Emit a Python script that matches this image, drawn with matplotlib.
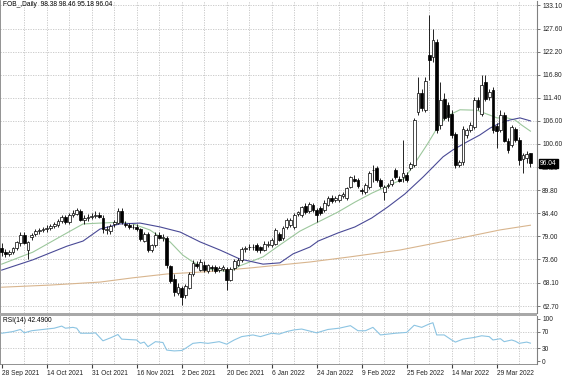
import numpy as np
import matplotlib
matplotlib.use('Agg')
import matplotlib.pyplot as plt
from matplotlib.patches import Rectangle
import matplotlib.transforms as mtransforms

plt.rcParams['font.family'] = ['Liberation Sans', 'DejaVu Sans']

# daily candles
open_ = [76.3, 75.3, 74.8, 75.4, 76.2, 77.4, 79.4, 75.8, 78.8, 79.5, 80.2, 80.5, 80.6, 81.0, 81.4, 81.6, 82.5, 83.6, 82.3, 84.0,
         84.3, 85.0, 82.8, 83.3, 83.6, 83.8, 84.0, 83.3, 80.4, 80.2, 82.0, 82.2, 85.0, 82.0, 81.6, 81.3, 81.2, 80.6, 78.0, 79.5,
         75.9, 77.0, 79.3, 78.7, 78.6, 72.0, 69.0, 65.8, 67.0, 65.2, 67.0, 70.2, 72.6, 71.2, 72.4, 70.9, 71.8, 71.9, 71.2, 71.4,
         71.3, 68.9, 71.5, 72.4, 73.4, 76.0, 76.4, 76.6, 76.9, 76.4, 75.9, 77.0, 77.0, 77.2, 79.5, 78.5, 81.1, 81.6, 81.2, 84.3,
         84.0, 86.2, 84.9, 86.3, 85.1, 85.6, 85.1, 86.4, 88.0, 87.6, 87.4, 88.5, 87.9, 90.6, 92.4, 92.2, 89.8, 89.4, 90.5, 94.4,
         95.0, 92.2, 89.4, 90.8, 91.2, 94.5, 92.4, 92.9, 93.4, 95.0, 95.7, 108.1, 112.5, 108.5, 121.4, 121.0, 124.5, 105.0, 111.1, 109.6,
         107.5, 103.0, 95.7, 96.3, 102.8, 103.9, 104.5, 110.9, 107.7, 115.0, 111.5, 113.2, 104.7, 103.9, 107.4, 101.4, 100.4, 104.0, 101.5, 97.2,
         97.4, 98.38]
high_ = [77.4, 76.0, 75.9, 76.6, 78.0, 80.0, 80.0, 77.9, 79.8, 80.7, 81.0, 81.2, 81.6, 81.9, 82.3, 83.0, 84.0, 84.0, 84.4, 85.2,
         85.6, 85.4, 84.0, 84.2, 84.5, 85.0, 84.7, 84.0, 81.4, 81.8, 82.9, 85.7, 85.6, 82.6, 82.1, 82.0, 81.8, 81.0, 80.0, 80.0,
         77.2, 79.9, 79.9, 79.5, 79.0, 72.4, 70.2, 68.0, 67.5, 67.8, 70.6, 73.4, 73.2, 73.6, 73.2, 72.6, 72.4, 72.4, 72.0, 72.2,
         71.8, 71.8, 73.8, 73.9, 76.5, 76.8, 77.1, 77.2, 77.4, 76.8, 78.0, 77.8, 78.6, 80.9, 80.0, 81.4, 83.3, 83.4, 84.4, 85.0,
         86.2, 86.7, 87.0, 86.9, 85.6, 86.0, 87.4, 88.5, 88.6, 88.4, 89.0, 89.3, 90.6, 93.2, 93.3, 92.6, 90.4, 91.4, 94.2, 95.6,
         95.4, 92.6, 91.1, 91.5, 92.6, 95.0, 93.0, 101.5, 94.0, 96.4, 106.6, 116.3, 113.5, 116.3, 130.8, 127.6, 125.2, 115.0, 112.5, 110.5,
         108.5, 103.5, 96.8, 104.8, 104.3, 105.8, 111.5, 111.5, 116.7, 116.7, 113.4, 114.0, 105.5, 108.6, 108.0, 102.0, 105.0, 104.6, 102.2, 98.6,
         99.0, 98.46]
low_ = [74.4, 74.2, 74.3, 74.9, 75.8, 76.8, 77.2, 73.8, 78.2, 79.0, 79.6, 79.9, 80.1, 80.5, 80.9, 81.2, 82.2, 81.9, 82.0, 83.5,
        83.9, 82.5, 81.8, 82.7, 83.0, 83.3, 83.2, 79.8, 79.6, 79.6, 81.3, 81.8, 82.0, 81.2, 80.8, 80.6, 80.3, 77.8, 77.6, 75.4,
        75.3, 76.6, 78.3, 78.0, 71.5, 68.0, 65.0, 65.3, 62.9, 64.6, 66.6, 69.8, 71.6, 70.8, 70.7, 70.5, 71.0, 70.5, 70.7, 71.0,
        66.4, 68.5, 71.1, 72.0, 73.0, 75.4, 75.8, 75.9, 75.4, 75.2, 75.6, 76.6, 76.6, 76.9, 77.8, 78.1, 80.8, 81.3, 80.8, 83.8,
        83.6, 84.3, 84.5, 84.8, 82.3, 83.9, 84.8, 86.1, 86.8, 87.0, 87.1, 88.0, 87.5, 90.2, 91.6, 90.2, 89.0, 89.0, 90.1, 91.8,
        91.8, 90.3, 87.5, 90.2, 90.8, 92.4, 91.6, 91.8, 91.6, 94.6, 95.2, 107.4, 108.4, 108.0, 115.6, 119.8, 103.2, 104.0, 106.3, 106.0,
        102.0, 95.0, 95.1, 95.8, 102.0, 103.4, 104.1, 108.6, 107.2, 110.7, 110.9, 103.2, 99.7, 103.4, 101.0, 98.6, 99.8, 101.1, 95.7, 93.8,
        96.2, 95.18]
close_ = [75.3, 74.8, 75.4, 76.2, 77.6, 79.4, 77.5, 77.6, 79.2, 80.2, 80.5, 80.6, 81.0, 81.4, 81.8, 82.7, 83.6, 82.3, 84.0, 84.5,
          85.2, 82.8, 83.3, 83.6, 83.8, 84.0, 83.5, 80.6, 80.8, 81.4, 82.4, 84.9, 82.3, 81.7, 81.3, 81.1, 80.8, 78.3, 79.6, 75.9,
          77.0, 79.4, 78.6, 78.9, 72.2, 68.6, 66.0, 67.2, 64.8, 67.4, 70.2, 72.8, 72.0, 73.0, 71.2, 72.3, 71.6, 70.9, 71.5, 71.8,
          68.8, 71.4, 73.3, 73.5, 76.1, 76.3, 76.6, 76.4, 75.8, 75.8, 77.3, 77.3, 78.2, 80.4, 78.2, 81.0, 82.9, 82.9, 84.0, 84.6,
          85.8, 84.7, 86.6, 85.2, 84.0, 84.5, 86.9, 88.0, 87.2, 88.0, 88.6, 88.9, 90.3, 92.8, 92.0, 90.7, 89.6, 91.0, 93.8, 94.6,
          92.2, 90.7, 90.5, 91.0, 92.2, 92.8, 92.0, 93.9, 92.2, 96.0, 106.2, 112.5, 109.0, 115.3, 120.3, 124.9, 103.9, 110.9, 106.7, 107.0,
          102.8, 95.8, 96.3, 104.0, 103.8, 105.0, 110.9, 109.2, 114.4, 111.1, 112.7, 103.9, 103.6, 107.4, 101.3, 99.2, 104.5, 101.6, 96.8, 98.0,
          98.2, 96.04]

# moving averages read at a few bars (bar index, price)
ma_fast_bar = [0, 8.3, 17.4, 21.7, 26.2, 31.5, 35, 39.5, 42.2, 44.9, 48.3, 51, 54.7, 60.9, 63.5, 69.7, 74.2, 79.5, 82.2,
               85.4, 89.7, 94.2, 98.7, 103, 107.5, 110.7, 113.4, 116.1, 118.7, 122.2, 126.7, 129.4, 132.1, 134.8, 136.9, 138.7, 141]
ma_fast = [72.5, 75.3, 79.8, 81.9, 82.1, 82.3, 81.9, 80.5, 78.9, 77.7, 74.6, 73.0, 71.4, 70.7, 72.1, 74.2, 77.0, 80.2, 81.4,
           82.8, 84.7, 87.0, 89.1, 90.8, 92.6, 96.8, 100.4, 104.3, 107.1, 108.6, 108.5, 107.6, 106.7, 106.7, 106.2, 105.0, 103.6]
ma_slow_bar = [0, 8.3, 17.4, 21.7, 26.2, 31.5, 36.9, 42.2, 47.6, 52.9, 58.2, 63.5, 69.7, 74.2, 77.7, 82.2, 84.4, 89.7,
               94.2, 98.7, 103, 107.5, 112.4, 115, 117.7, 120.3, 124.1, 127.5, 130.2, 132.9, 135.5, 138.2, 141]
ma_slow = [71.1, 73.5, 76.7, 77.9, 80.7, 81.9, 82.1, 81.2, 80.0, 77.7, 75.8, 73.7, 72.5, 72.8, 74.9, 76.5, 77.9, 79.8,
           81.2, 83.3, 85.9, 88.9, 92.9, 95.2, 97.6, 99.2, 101.1, 102.7, 104.3, 105.5, 106.2, 106.7, 106.0]
ma_long_bar = [0, 12.9, 26.2, 35, 44.1, 54.2, 66.2, 74.2, 82.2, 92.9, 106.2, 119.6, 132.9, 141]
ma_long = [67.1, 67.6, 68.3, 69.3, 70.2, 70.7, 71.6, 72.3, 73.0, 74.2, 75.8, 78.1, 80.5, 81.6]

# RSI(14) read at a few bars
rsi_bar = [0, 3, 5, 6, 8, 11, 14, 16, 17, 19, 20, 21, 24, 25, 27, 29, 31, 32, 34, 36, 37, 38, 39, 41, 43, 44, 46, 48, 49,
           51, 53, 55, 58, 60, 62, 64, 67, 69, 72, 74, 76, 78, 80, 84, 87, 90, 93, 95, 97, 99, 101, 105, 108, 110, 112,
           114, 115, 116, 118, 120, 121, 123, 126, 128, 130, 131, 133, 134, 136, 137, 138, 140, 141]
rsi = [66, 70, 75, 67, 72, 75, 78, 83, 78, 80, 78, 66, 66, 67, 48, 55, 63, 52, 51, 50, 42, 45, 34, 46, 44, 26, 24, 25, 30,
       42, 44, 42, 46, 40, 50, 58, 62, 58, 66, 64, 70, 74, 76, 67, 75, 78, 84, 72, 72, 80, 62, 66, 68, 85, 80,
       88, 91, 62, 62, 50, 45, 52, 56, 60, 58, 50, 53, 46, 50, 47, 42, 45, 42.49]

price_ticks = [62.70, 68.10, 73.60, 79.00, 84.40, 89.80, 95.20, 100.60, 106.00, 111.40, 116.80, 122.20, 127.60, 133.10]
rsi_ticks = [0, 30, 70, 100]
date_labels = ['28 Sep 2021', '14 Oct 2021', '31 Oct 2021', '16 Nov 2021', '2 Dec 2021', '20 Dec 2021',
               '6 Jan 2022', '24 Jan 2022', '9 Feb 2022', '25 Feb 2022', '14 Mar 2022', '29 Mar 2022']

o = np.array(open_); h = np.array(high_); l = np.array(low_); c = np.array(close_)
idx = np.arange(len(c))

W, H = 564, 376
fig = plt.figure(figsize=(W / 100, H / 100), dpi=100)
ax = fig.add_axes([0, 1 - 313 / H, 537 / W, 312 / H])
rx = fig.add_axes([0, 1 - 364 / H, 537 / W, 48 / H])

grid_kw = dict(color='#c4c4c4', lw=0.6, ls=(0, (1.5, 1.5)))
fs = 4.8

for a in (ax, rx):
    a.set_xlim(-0.45, 142.75)
    for s in ('top', 'bottom'):
        a.spines[s].set_visible(False)
    a.spines['left'].set_color('#808080')
    a.spines['right'].set_color('#808080')
    a.spines['left'].set_linewidth(1.2)
    a.spines['right'].set_linewidth(0.8)
    a.yaxis.tick_right()
    a.tick_params(axis='y', length=2.5, width=0.5, color='#404040', pad=1.2, labelsize=fs, labelcolor='#222222')
    for xv in range(6, 142, 6):
        a.axvline(xv, **grid_kw, zorder=0)

# main panel
ax.set_ylim(61.07, 134.04)
ax.set_xticks([])
ax.set_yticks(price_ticks)
ax.set_yticklabels(['%.2f' % v for v in price_ticks])
for v in price_ticks:
    ax.axhline(v, **grid_kw, zorder=0)

ax.plot(ma_long_bar, ma_long, color='#d8b58e', lw=0.8, zorder=1)
ax.plot(ma_fast_bar, ma_fast, color='#9cc79c', lw=0.8, zorder=1)
ax.plot(ma_slow_bar, ma_slow, color='#4a4a96', lw=0.8, zorder=1)

up = c >= o
ax.vlines(idx, l, h, color='black', lw=0.6, zorder=2)
ax.bar(idx, np.maximum(np.abs(c - o), 0.15), bottom=np.minimum(o, c), width=0.7,
       color=np.where(up, 'white', 'black'), edgecolor='black', linewidth=0.5, zorder=3)

# last price box on the price scale, covering the grid label under it
trans = mtransforms.blended_transform_factory(ax.transAxes, ax.transData)
ax.text(1.006, c[-1], '%.2f' % c[-1], transform=trans, color='white', fontsize=fs, va='center', ha='left',
        bbox=dict(boxstyle='square,pad=0.2', fc='black', ec='black'), clip_on=False, zorder=5)
ax.text(0.006, 1 - 4 / 312, 'FOB_,Daily  %.2f %.2f %.2f %.2f' % (o[-1], h[-1], l[-1], c[-1]),
        transform=ax.transAxes, fontsize=fs, va='center', ha='left', color='black')

# RSI panel
rx.set_ylim(-7.1, 107)
rx.plot(rsi_bar, rsi, color='#8cc4e2', lw=0.8, zorder=2)
rx.set_yticks(rsi_ticks)
for v in (30, 70):
    rx.axhline(v, **grid_kw, zorder=0)
rx.set_xticks(np.arange(len(date_labels)) * 12)
rx.set_xticklabels(date_labels)
rx.tick_params(axis='x', length=3, width=0.8, color='#404040', pad=1.5, labelsize=fs, labelcolor='#222222')
for lab in rx.get_xticklabels():
    lab.set_ha('left')
rx.spines['bottom'].set_visible(True)
rx.spines['bottom'].set_color('#808080')
rx.spines['bottom'].set_linewidth(0.6)
rx.text(0.006, 0.9, 'RSI(14) %.4f' % rsi[-1], transform=rx.transAxes, fontsize=fs, va='center', ha='left')

# separator between panels
fig.patches.append(Rectangle((0, 1 - 316 / H), 537 / W, 3 / H, transform=fig.transFigure,
                             facecolor='#a8a8a8', edgecolor='none'))

fig.savefig('out.png', dpi=100)
